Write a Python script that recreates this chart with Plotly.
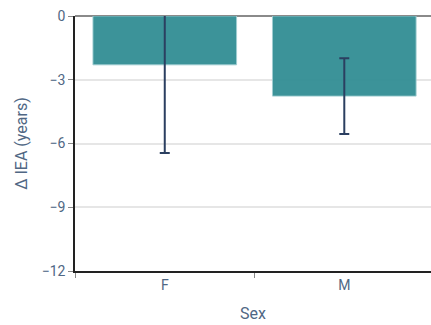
import plotly.graph_objects as go

# Change in IEA by sex, with error bars
sexes = ["F", "M"]
delta_iea = [-2.3, -3.77]
err = [4.15, 1.78]
y_ticks = [0, -3, -6, -9, -12]

label_color = "#506784"

fig = go.Figure(
    go.Bar(
        x=sexes,
        y=delta_iea,
        marker=dict(color="rgba(45,139,145,0.93)", line=dict(color="rgba(160,205,210,0.9)", width=1)),
        error_y=dict(type="data", array=err, visible=True, color="#2b3f60", thickness=2, width=5),
        showlegend=False,
    )
)

fig.update_layout(
    width=431,
    height=325,
    margin=dict(l=75, r=0, t=16, b=54),
    paper_bgcolor="white",
    plot_bgcolor="white",
    bargap=0.2,
    font=dict(family="Roboto", size=14, color=label_color),
)

fig.update_xaxes(
    title=dict(text="Sex", font=dict(size=16, color=label_color), standoff=16),
    range=[-0.5, 1.483],
    showline=True,
    linecolor="#222222",
    linewidth=1.5,
    ticks="outside",
    tickson="boundaries",
    ticklen=5,
    tickcolor="#888888",
    tickfont=dict(size=14, color=label_color),
    showgrid=False,
)

fig.update_yaxes(
    title=dict(text="Δ IEA (years)", font=dict(size=16, color=label_color), standoff=10),
    range=[-12, 0],
    tickvals=y_ticks,
    ticktext=[str(v).replace("-", "−") for v in y_ticks],
    showline=True,
    linecolor="#222222",
    linewidth=1.5,
    ticks="outside",
    ticklen=5,
    tickcolor="#888888",
    tickfont=dict(size=14, color=label_color),
    showgrid=True,
    gridcolor="#e6e6e6",
    gridwidth=1.5,
    zeroline=True,
    zerolinecolor="#8a8a8a",
    zerolinewidth=2,
)

fig.write_html("out.html")
